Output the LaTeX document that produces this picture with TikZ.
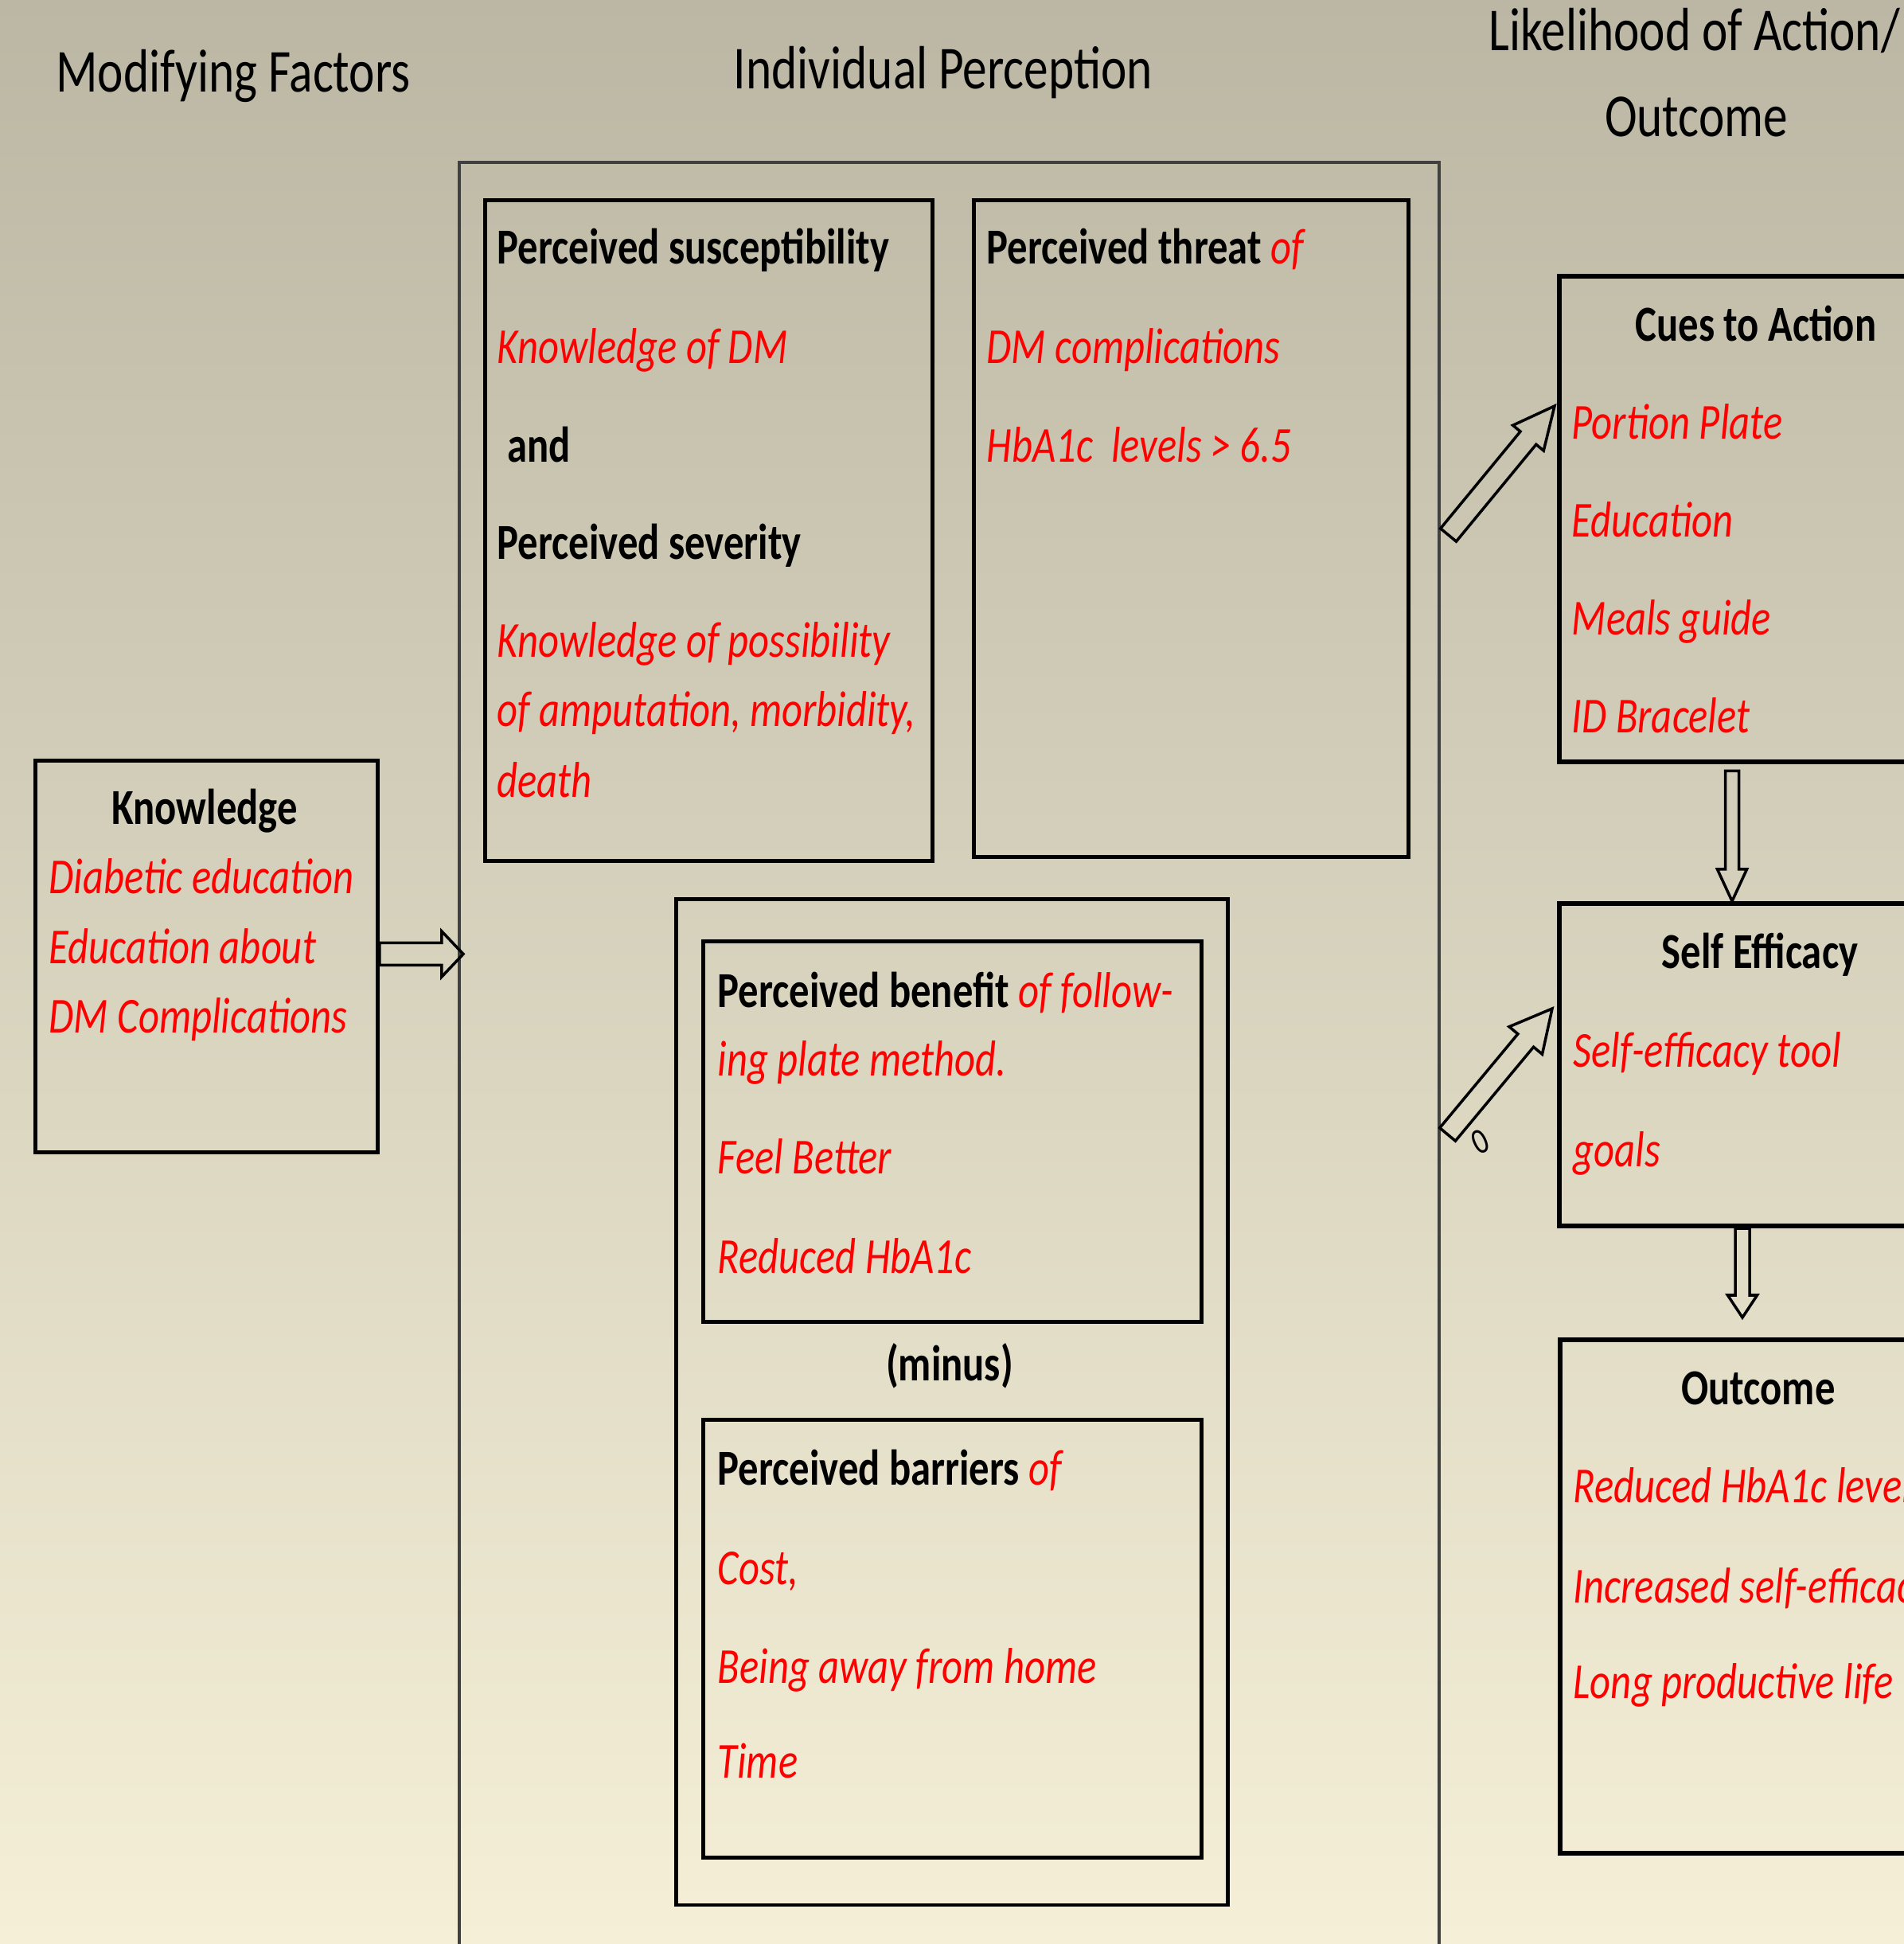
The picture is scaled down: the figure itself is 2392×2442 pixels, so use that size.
\documentclass[tikz,border=0pt]{standalone}
\usepackage{fontspec}
\setmainfont{Carlito}[FakeStretch=0.8]
\usepackage{tikz}
\usetikzlibrary{calc,positioning}

\definecolor{bgtop}{RGB}{187,183,164}
\definecolor{bgbot}{RGB}{245,239,215}
\definecolor{itemred}{RGB}{255,0,0}

% hollow block arrow: from, to, half shaft, half head, head length
\newcommand{\hollowarrow}[5]{%
  \coordinate (ha-neck) at ($(#2)!#5!(#1)$);
  \draw[arrowline] ($(#1)!#3!90:(#2)$) -- ($(ha-neck)!#3!90:(#2)$)
    -- ($(ha-neck)!#4!90:(#2)$) -- (#2) -- ($(ha-neck)!#4!-90:(#2)$)
    -- ($(ha-neck)!#3!-90:(#2)$) -- ($(#1)!#3!-90:(#2)$) -- cycle;}

\begin{document}
\begin{tikzpicture}
        [%%%%%%%%%%%%%%%%%%%%%%%%%%%%%%
        x=0.01cm, y=-0.01cm,
        box/.style={draw=black, line width=1.3pt, inner sep=0pt, anchor=north west},
        sidebox/.style={box, line width=1.7pt},
        bigbox/.style={draw=black!75, line width=1.1pt, inner sep=0pt, anchor=north west},
        head/.style={font=\fontsize{21.8}{25}\selectfont, inner sep=0pt, anchor=base},
        bold/.style={font=\fontsize{18}{21}\selectfont\bfseries, inner sep=0pt, anchor=base west},
        item/.style={font=\fontsize{18}{21}\selectfont\itshape, text=itemred, inner sep=0pt, anchor=base west},
        arrowline/.style={draw=black, line width=1pt, line join=miter},
        ]%%%%%%%%%%%%%%%%%%%%%%%%%%%%%%
        \useasboundingbox (0,0) rectangle (2392,2442);
        \clip (0,0) rectangle (2392,2442);
        \shade[top color=bgtop, bottom color=bgbot] (0,0) rectangle (2392,2442);

        % Headings
        \node[head] (hmod) at (293,115) {Modifying Factors};
        \node[head] (hind) at (1185,111) {Individual Perception};
        \node[head] (hlik) at (2129,64) {Likelihood of Action/};
        \node[head] (hout) at (2131,171) {Outcome};

        % Boxes
        \node[bigbox, minimum width=12.30cm, minimum height=22.80cm] (pbox) at (575,202) {};
        \node[box, minimum width=5.62cm, minimum height=8.30cm] (sus) at (607,249) {};
        \node[box, minimum width=5.46cm, minimum height=8.25cm] (thr) at (1221,249) {};
        \node[box, minimum width=6.93cm, minimum height=12.63cm] (benout) at (847,1127) {};
        \node[box, minimum width=6.26cm, minimum height=4.78cm] (ben) at (881,1180) {};
        \node[box, minimum width=6.26cm, minimum height=5.50cm] (bar) at (881,1781) {};
        \node[box, minimum width=4.30cm, minimum height=4.92cm] (know) at (42,953) {};
        \node[sidebox, minimum width=4.80cm, minimum height=6.10cm] (cue) at (1956,344) {};
        \node[sidebox, minimum width=4.80cm, minimum height=4.05cm] (eff) at (1956,1132) {};
        \node[sidebox, minimum width=4.80cm, minimum height=6.45cm] (out) at (1957,1680) {};

        % Susceptibility / severity
        \node[bold] (sus-1) at (624,331) {Perceived susceptibility};
        \node[item] (sus-2) at (624,456) {Knowledge of DM};
        \node[bold] (sus-3) at (637,580) {and};
        \node[bold] (sus-4) at (624,702) {Perceived severity};
        \foreach \txt/\yy [count=\i] in {Knowledge of possibility/825, {of amputation, morbidity,}/912, death/1001}
          \node[item] (sev-\i) at (624,\yy) {\txt};

        % Threat
        \node[bold] (thr-1) at (1239,331) {Perceived threat {\color{itemred}\mdseries\itshape of}};
        \node[item] (thr-2) at (1239,456) {DM complications};
        \node[item] (thr-3) at (1239,580) {HbA1c\ \ levels > 6.5};

        % Benefit, minus, barriers
        \node[bold] (ben-1) at (901,1265) {Perceived benefit {\color{itemred}\mdseries\itshape of follow-}};
        \foreach \txt/\yy [count=\i] in {ing plate method./1351, Feel Better/1474, Reduced HbA1c/1599}
          \node[item] (ben-\i) at (901,\yy) {\txt};
        \node[bold, anchor=base] (minus) at (1193,1734) {(minus)};
        \node[bold] (bar-1) at (901,1865) {Perceived barriers {\color{itemred}\mdseries\itshape of}};
        \foreach \txt/\yy [count=\i] in {{Cost,}/1990, Being away from home/2114, Time/2233}
          \node[item] (bar-\i) at (901,\yy) {\txt};

        % Knowledge
        \node[bold, anchor=base] (know-t) at (257,1035) {Knowledge};
        \foreach \txt/\yy [count=\i] in {Diabetic education/1122, Education about/1210, DM Complications/1297}
          \node[item] (know-\i) at (61,\yy) {\txt};

        % Cues to action
        \node[bold, anchor=base] (cue-t) at (2206,428) {Cues to Action};
        \foreach \txt [count=\i] in {Portion Plate, Education, Meals guide, ID Bracelet}
          \node[item] (cue-\i) at (1974,428+123*\i) {\txt};

        % Self efficacy
        \node[bold, anchor=base] (eff-t) at (2211,1216) {Self Efficacy};
        \node[item] (eff-1) at (1976,1340) {Self-efficacy tool};
        \node[item] (eff-2) at (1976,1465) {goals};

        % Outcome
        \node[bold, anchor=base] (out-t) at (2209,1764) {Outcome};
        \foreach \txt/\yy [count=\i] in {Reduced HbA1c levels/1887, Increased self-efficacy/2013, Long productive life/2133}
          \node[item] (out-\i) at (1976,\yy) {\txt};

        % Arrows
        \coordinate (kn-to) at ($(pbox.west |- know.east)+(7,-3)$);
        \coordinate (kn-from) at ($(know.east)+(0,-3)$);
        \hollowarrow{kn-from}{kn-to}{0.14cm}{0.285cm}{0.27cm}
        \coordinate (cu-from) at ($(pbox.north east)+(10,470)$);
        \coordinate (cu-to) at ($(cue.north west)+(-3,166)$);
        \hollowarrow{cu-from}{cu-to}{0.128cm}{0.25cm}{0.52cm}
        \coordinate (ef-from) at ($(pbox.north east)+(9,1223)$);
        \coordinate (ef-to) at ($(eff.north west)+(-6,135)$);
        \hollowarrow{ef-from}{ef-to}{0.128cm}{0.27cm}{0.52cm}
        \coordinate (ce-from) at ($(cue.south west)+(220,8)$);
        \coordinate (ce-to) at ($(eff.north west)+(220,0)$);
        \hollowarrow{ce-from}{ce-to}{0.085cm}{0.185cm}{0.40cm}
        \coordinate (eo-from) at ($(eff.south west)+(233,0)$);
        \coordinate (eo-to) at ($(out.north west)+(232,-25)$);
        \hollowarrow{eo-from}{eo-to}{0.09cm}{0.185cm}{0.28cm}

        % stray mark
        \node[font=\fontsize{13}{15}\selectfont, rotate=25, inner sep=0pt] (zero) at (1860,1434) {0};
\end{tikzpicture}
\end{document}
